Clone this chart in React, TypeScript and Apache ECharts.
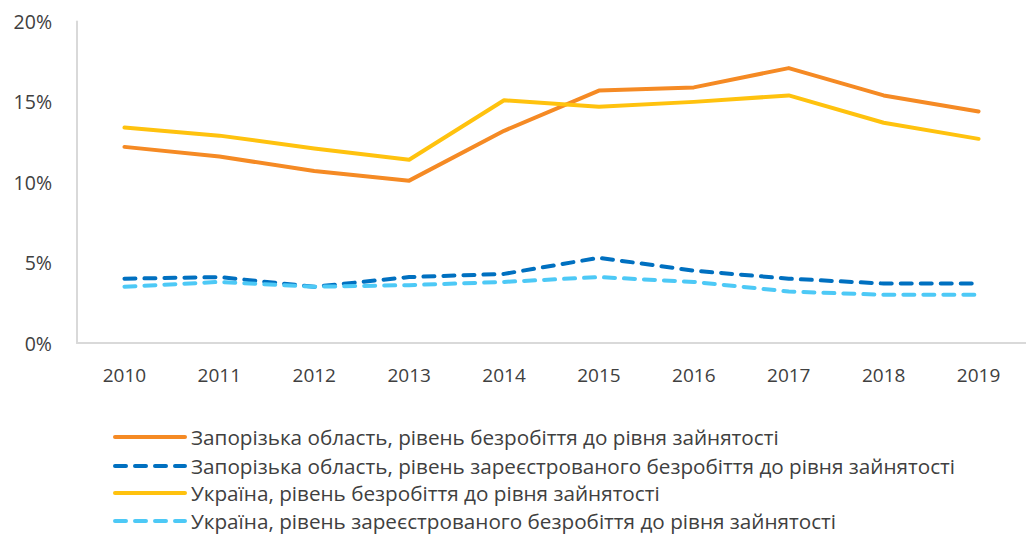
import React, { useEffect, useRef } from "react";
import * as echarts from "echarts";

const years = ["2010", "2011", "2012", "2013", "2014", "2015", "2016", "2017", "2018", "2019"];
const zapUnemp = [12.2, 11.6, 10.7, 10.1, 13.2, 15.7, 15.9, 17.1, 15.4, 14.4];
const zapRegistered = [4.0, 4.1, 3.5, 4.1, 4.3, 5.3, 4.5, 4.0, 3.7, 3.7];
const ukrUnemp = [13.4, 12.9, 12.1, 11.4, 15.1, 14.7, 15.0, 15.4, 13.7, 12.7];
const ukrRegistered = [3.5, 3.8, 3.5, 3.6, 3.8, 4.1, 3.8, 3.2, 3.0, 3.0];
const seriesNames = [
  "Запорізька область, рівень безробіття до рівня зайнятості",
  "Запорізька область, рівень зареєстрованого безробіття до рівня зайнятості",
  "Україна, рівень безробіття до рівня зайнятості",
  "Україна, рівень зареєстрованого безробіття до рівня зайнятості",
];
const colors = ["#F58A24", "#0070C0", "#FFC20E", "#4DC9F6"];
const legendCenters = [437, 466, 493, 521];

export default function App() {
  const ref = useRef<HTMLDivElement>(null);
  useEffect(() => {
    if (!ref.current) return;
    const chart = echarts.init(ref.current, undefined, { renderer: "svg" });
    const font = "'Open Sans', sans-serif";
    const mk = (i: number, data: number[], dashed: boolean) => ({
      name: seriesNames[i],
      type: "line",
      data,
      symbol: "none",
      lineStyle: {
        color: colors[i],
        width: 4,
        type: dashed ? [11, 9] : "solid",
        cap: "round",
        join: "round",
      },
      itemStyle: { color: colors[i] },
    });
    chart.setOption({
      animation: false,
      backgroundColor: "#ffffff",
      grid: { left: 77, top: 21.5, width: 956, height: 321.5, containLabel: false },
      xAxis: {
        type: "category",
        data: years,
        boundaryGap: true,
        axisLine: { show: true, lineStyle: { color: "#D9D9D9", width: 2 } },
        axisTick: { show: false },
        axisLabel: { color: "#404040", fontSize: 19, fontFamily: font, margin: 22 },
      },
      yAxis: {
        type: "value",
        min: 0,
        max: 20,
        interval: 5,
        axisLine: { show: true, lineStyle: { color: "#D9D9D9", width: 2 } },
        axisTick: { show: false },
        splitLine: { show: false },
        axisLabel: {
          color: "#404040",
          fontSize: 19.5,
          fontFamily: font,
          margin: 25,
          formatter: (v: number) => `${v}%`,
        },
      },
      legend: seriesNames.map((name, i) => ({
        orient: "horizontal",
        left: 113,
        top: legendCenters[i] - 11,
        padding: 0,
        itemWidth: 70,
        itemHeight: 14,
        itemGap: 0,
        selectedMode: false,
        itemStyle: { opacity: 0 },
        lineStyle: { width: 4 },
        textStyle: {
          color: "#404040",
          fontSize: 20.7,
          lineHeight: 22,
          fontFamily: font,
          padding: [0, 0, 0, 1],
        },
        data: [name],
      })),
      series: [
        mk(0, zapUnemp, false),
        mk(1, zapRegistered, true),
        mk(2, ukrUnemp, false),
        mk(3, ukrRegistered, true),
      ],
    });
    return () => chart.dispose();
  }, []);
  return (
    <div
      ref={ref}
      style={{ position: "fixed", left: 0, top: 0, width: 1026, height: 535, background: "#fff" }}
    />
  );
}
